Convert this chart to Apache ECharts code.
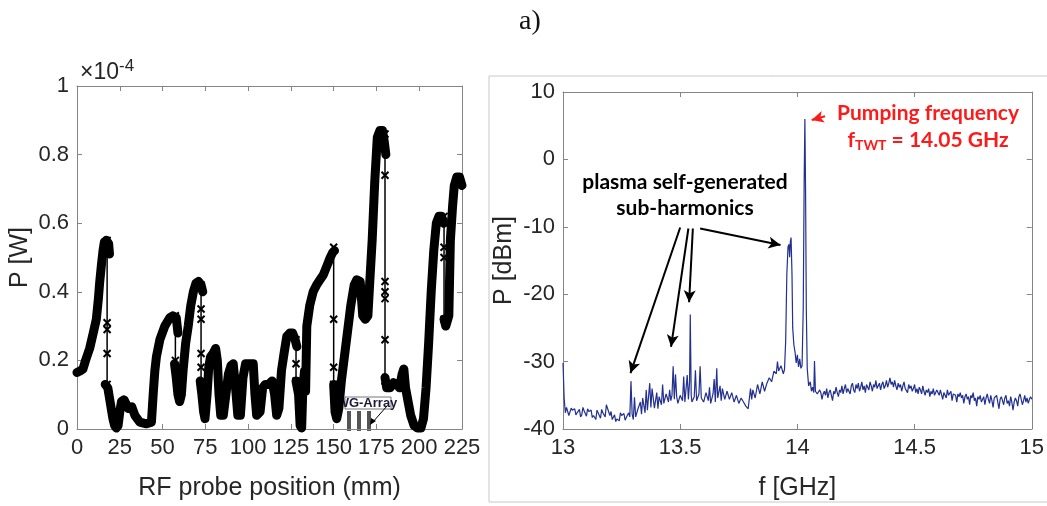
<!DOCTYPE html>
<html>
<head>
<meta charset="utf-8">
<script src="https://cdn.jsdelivr.net/npm/echarts@6/dist/echarts.min.js"></script>
<style>
  html, body { margin: 0; padding: 0; background: #fff; }
  #main { width: 1047px; height: 506px; }
</style>
</head>
<body>
<div id="main"></div>
<script>
// left panel: RF probe scan, P in units of 1e-4 W
const probeTicks = [0, 25, 50, 75, 100, 125, 150, 175, 200, 225];
const powerTicks = [0, 0.2, 0.4, 0.6, 0.8, 1];

// dense (thick) parts of the scan, [position mm, P x1e-4 W]
const segA = [[0,0.165],[2,0.17],[3.5,0.175],[5,0.2],[7.4,0.235],[9.5,0.28],[11.3,0.32],[12.5,0.38],[13.3,0.43],[14.3,0.48],[15.2,0.52],[16,0.545],[17.2,0.55],[18.5,0.54],[19,0.51]];
const segB = [[16.5,0.13],[18,0.12],[19,0.09],[20,0.06],[21,0.03],[22,0.01],[23,0.003],[24,0.01],[25,0.05],[26,0.08],[27.5,0.085],[29,0.07],[30,0.06],[31,0.065],[32,0.065],[33.8,0.04],[36.7,0.02],[40.6,0.015],[43.5,0.02],[44.5,0.1],[45.5,0.17],[46.4,0.21],[48.4,0.26],[51.3,0.3],[54.3,0.325],[56,0.33],[58,0.325],[59,0.28]];
const segC = [[57,0.19],[58,0.15],[59,0.1],[60,0.08],[61,0.1],[62,0.17],[63.5,0.25],[65,0.3],[66.5,0.36],[68,0.4],[69.5,0.425],[71,0.43],[72.5,0.42],[73.5,0.4]];
const segD = [[72,0.14],[73,0.1],[74,0.05],[74.8,0.03],[76,0.1],[77,0.18],[78,0.21],[79.5,0.22],[81,0.235],[82,0.2],[83,0.1],[84,0.04],[85.5,0.04],[87,0.1],[88.5,0.16],[90,0.185],[91.3,0.19],[92.5,0.13],[94,0.04],[95.5,0.04],[97,0.15],[98.5,0.19],[101,0.19],[103,0.19],[104,0.1],[105,0.04],[107,0.05],[108.5,0.12],[110,0.13],[112,0.13],[114,0.14],[115.5,0.1],[116.7,0.04],[118,0.06],[119.5,0.17],[121,0.22],[122.6,0.27],[124.5,0.28],[126,0.28],[127.5,0.26],[128.5,0.24]];
const segE = [[128,0.14],[129.5,0.1],[130.4,0.01],[131.3,0.003],[132,0.12],[133,0.17],[133.6,0.11],[134.3,0.3],[136,0.36],[138,0.4],[140,0.42],[142,0.435],[144,0.45],[146,0.475],[148,0.5],[149.5,0.515],[150.5,0.52]];
const segF = [[150,0.13],[150.8,0.05],[151.8,0.03],[153,0.06],[154.5,0.14],[156,0.2],[158,0.28],[160,0.36],[162,0.42],[163.5,0.435],[165.5,0.43],[167,0.33],[168.5,0.32],[170,0.33],[171,0.42],[172.5,0.55],[174,0.72],[175.5,0.85],[177,0.87],[178.5,0.87],[179.5,0.84],[180.5,0.8]];
const segG = [[180,0.15],[181,0.12],[183,0.12],[185,0.135],[187,0.13],[188.5,0.12],[190,0.16],[191,0.175],[192,0.12],[193.5,0.08],[195,0.04],[197,0.01],[199,0.003],[201,0.003],[202.5,0.03],[204,0.12],[205.5,0.25],[207,0.4],[208.5,0.52],[210,0.6],[211.5,0.62],[213,0.62],[214.3,0.6]];
const segH = [[214.5,0.32],[215.5,0.3],[216.5,0.3],[217.3,0.33],[218.2,0.55],[219.5,0.65],[220.5,0.71],[222,0.735],[223.5,0.735],[225,0.71]];
const denseSegs = [segA, segB, segC, segD, segE, segF, segG, segH];

// sparse jumps between the dense parts: position + sampled values
const jumpPos = [17.6, 57.5, 72.5, 128, 150, 180, 214.5];
const jumpVals = [
  [0.55, 0.31, 0.29, 0.22, 0.13],
  [0.33, 0.2, 0.18],
  [0.42, 0.35, 0.32, 0.22, 0.18, 0.13],
  [0.26, 0.19, 0.14],
  [0.53, 0.32, 0.18, 0.13],
  [0.86, 0.74, 0.43, 0.4, 0.38, 0.26, 0.14],
  [0.62, 0.53, 0.5, 0.32]
];

// right panel: spectrum, [f GHz, P dBm]
const freqTicks = [13, 13.5, 14, 14.5, 15];
const dbmTicks = [-40, -30, -20, -10, 0, 10];
const spectrum = [
  [13.00,-30.2],[13.005,-35.5],[13.01,-37.6],[13.015,-36.8],[13.02,-37.0],[13.025,-38.0],[13.03,-37.8],[13.035,-36.9],[13.04,-37.2],[13.05,-37.0],[13.055,-37.9],[13.06,-37.6],
  [13.07,-37.1],[13.075,-38.2],[13.08,-37.9],[13.085,-36.8],[13.09,-37.3],[13.10,-38.1],[13.105,-37.0],[13.11,-37.4],[13.12,-37.2],[13.125,-38.3],[13.13,-38.0],[13.14,-38.6],
  [13.145,-37.2],[13.15,-37.4],[13.16,-38.4],[13.165,-37.1],[13.17,-37.6],[13.18,-38.2],[13.185,-36.4],[13.19,-36.6],[13.20,-38.0],[13.205,-37.4],[13.21,-38.6],[13.22,-37.9],
  [13.225,-38.9],[13.23,-38.5],[13.24,-38.8],[13.245,-37.6],[13.25,-38.0],[13.26,-37.7],[13.265,-38.7],[13.27,-38.3],[13.28,-37.6],[13.285,-38.2],[13.29,-32.9],
  [13.295,-37.8],[13.30,-38.6],[13.305,-35.3],[13.31,-38.2],[13.32,-37.0],[13.33,-36.0],[13.335,-37.8],[13.34,-35.4],
  [13.35,-37.6],[13.355,-34.2],[13.36,-37.2],[13.37,-33.2],[13.375,-36.8],[13.38,-34.0],[13.39,-36.9],[13.40,-34.6],
  [13.405,-37.0],[13.41,-35.2],[13.42,-36.4],[13.425,-33.4],[13.43,-36.2],[13.44,-34.8],[13.45,-36.0],[13.455,-34.2],
  [13.46,-35.8],[13.465,-35.0],[13.47,-30.7],[13.475,-35.6],[13.48,-31.9],[13.485,-35.2],[13.49,-36.2],[13.50,-35.0],
  [13.51,-35.8],[13.515,-32.2],[13.52,-36.0],[13.53,-32.0],[13.535,-35.6],[13.54,-33.0],[13.543,-23.0],[13.547,-35.0],
  [13.55,-36.0],[13.56,-35.2],[13.565,-31.3],[13.57,-35.8],[13.58,-34.8],[13.585,-30.7],[13.59,-35.4],[13.60,-36.0],
  [13.61,-34.6],[13.62,-35.8],[13.625,-33.8],[13.63,-36.2],[13.64,-34.8],[13.645,-32.6],[13.65,-36.0],[13.656,-31.0],
  [13.66,-35.4],[13.67,-33.6],[13.675,-35.8],[13.68,-34.0],[13.69,-35.6],[13.70,-34.4],[13.71,-35.6],[13.72,-34.6],
  [13.73,-36.0],[13.74,-35.0],[13.75,-36.2],[13.76,-35.4],[13.77,-36.0],[13.78,-36.6],[13.79,-37.0],[13.80,-34.0],
  [13.805,-35.6],[13.81,-34.2],[13.82,-35.4],[13.83,-33.4],[13.84,-34.8],[13.85,-33.0],[13.86,-34.4],[13.87,-33.2],
  [13.88,-32.4],[13.89,-33.0],[13.90,-31.4],[13.91,-31.8],[13.915,-30.0],[13.92,-31.4],[13.93,-30.6],[13.94,-31.8],
  [13.945,-31.2],[13.95,-27.0],[13.955,-17.0],[13.96,-13.0],[13.964,-12.6],[13.967,-14.5],[13.97,-12.2],[13.973,-11.6],
  [13.977,-17.0],[13.98,-25.0],[13.985,-27.5],[13.99,-28.6],[13.995,-30.2],[14.00,-29.0],[14.005,-30.8],[14.01,-29.6],
  [14.015,-31.0],[14.02,-30.6],[14.025,-22.0],[14.029,-3.0],[14.032,6.0],[14.035,-5.0],[14.038,-22.0],[14.042,-31.0],
  [14.048,-33.6],[14.055,-33.0],[14.06,-34.4],[14.065,-33.8],[14.07,-34.6],[14.073,-29.9],[14.077,-34.4],[14.085,-34.8],
  [14.09,-35.0],[14.095,-34.2],[14.10,-34.6],[14.105,-35.6],[14.11,-34.8],[14.115,-34.4],[14.12,-35.0],[14.125,-34.0],
  [14.13,-35.4],[14.135,-34.6],[14.14,-34.2],[14.145,-35.0],[14.15,-35.8],[14.155,-34.4],[14.16,-34.8],[14.165,-33.8],
  [14.17,-34.6],[14.175,-35.2],[14.18,-34.2],[14.185,-34.6],[14.19,-33.6],[14.195,-34.8],[14.20,-34.0],[14.205,-33.4],
  [14.21,-34.6],[14.215,-34.0],[14.22,-33.8],[14.225,-34.8],[14.23,-33.6],[14.235,-33.2],[14.24,-34.2],[14.245,-34.6],
  [14.25,-33.4],[14.255,-34.0],[14.26,-33.2],[14.265,-34.4],[14.27,-33.8],[14.275,-33.0],[14.28,-34.2],[14.285,-33.6],
  [14.29,-34.6],[14.295,-33.4],[14.30,-33.8],[14.305,-34.2],[14.31,-33.0],[14.315,-33.6],[14.32,-34.4],[14.325,-33.4],
  [14.33,-33.8],[14.335,-32.8],[14.34,-34.0],[14.345,-33.6],[14.35,-33.2],[14.355,-34.2],[14.36,-33.4],[14.365,-33.0],
  [14.37,-34.0],[14.375,-33.6],[14.38,-32.8],[14.385,-33.8],[14.39,-33.2],[14.395,-32.4],[14.40,-33.4],[14.405,-33.0],
  [14.41,-33.8],[14.415,-32.8],[14.42,-33.6],[14.425,-34.2],[14.43,-33.2],[14.435,-33.8],[14.44,-33.4],[14.445,-34.4],
  [14.45,-33.6],[14.455,-33.0],[14.46,-34.0],[14.465,-33.8],[14.47,-34.6],[14.475,-33.4],[14.48,-34.0],[14.485,-33.6],
  [14.49,-34.4],[14.495,-34.0],[14.50,-33.4],[14.505,-34.6],[14.51,-34.0],[14.515,-34.8],[14.52,-33.8],[14.525,-34.2],
  [14.53,-34.8],[14.535,-33.6],[14.54,-34.4],[14.545,-35.0],[14.55,-34.2],[14.555,-34.6],[14.56,-34.0],[14.565,-35.2],
  [14.57,-34.4],[14.575,-34.8],[14.58,-34.0],[14.585,-35.0],[14.59,-34.6],[14.595,-34.2],[14.60,-34.4],[14.605,-35.0],
  [14.61,-34.2],[14.615,-34.9],[14.62,-35.6],[14.625,-34.6],[14.63,-34.8],[14.635,-35.4],[14.64,-34.2],[14.645,-35.0],
  [14.65,-35.2],[14.655,-34.4],[14.66,-35.8],[14.665,-34.8],[14.67,-34.6],[14.675,-35.0],[14.68,-36.0],[14.685,-34.8],
  [14.69,-35.2],[14.695,-34.6],[14.70,-35.4],[14.705,-35.0],[14.71,-36.2],[14.715,-35.2],[14.72,-34.8],[14.725,-35.6],
  [14.73,-35.2],[14.735,-36.4],[14.74,-35.0],[14.745,-35.4],[14.75,-34.6],[14.755,-35.8],[14.76,-35.4],[14.765,-36.6],
  [14.77,-35.2],[14.775,-35.6],[14.78,-35.0],[14.785,-36.0],[14.79,-35.8],[14.795,-35.2],[14.80,-36.4],[14.805,-35.4],
  [14.81,-34.8],[14.815,-35.6],[14.82,-36.2],[14.825,-35.0],[14.83,-35.8],[14.835,-36.8],[14.84,-35.4],[14.845,-35.6],
  [14.85,-35.0],[14.855,-36.0],[14.86,-37.0],[14.865,-35.6],[14.87,-35.2],[14.875,-35.8],[14.88,-36.4],[14.885,-35.4],
  [14.89,-35.0],[14.895,-36.2],[14.90,-35.8],[14.905,-36.6],[14.91,-35.2],[14.915,-36.0],[14.92,-37.2],[14.925,-36.0],
  [14.93,-35.4],[14.935,-35.8],[14.94,-36.6],[14.945,-35.2],[14.95,-34.8],[14.955,-35.6],[14.96,-36.4],[14.965,-35.8],
  [14.97,-35.0],[14.975,-36.0],[14.98,-35.4],[14.985,-36.2],[14.99,-35.6],[14.995,-35.2],[15.00,-35.6]
];

// annotation arrows in data coords: [from, to]
const subArrows = [
  [[13.500,-10.1],[13.288,-31.7]],
  [[13.535,-10.25],[13.461,-27.8]],
  [[13.554,-10.25],[13.538,-21.2]],
  [[13.585,-10.25],[13.928,-12.7]]
];
const pumpArrow = [[14.118,6.4],[14.061,5.85]];

const TXT = '#262626';
const BOX = '#858585';
const FONT = 'Liberation Sans';
const RED = '#ff1a1a';

function boxAxis(gridIndex, pos, min, max, interval, showLabel, fmt) {
  return {
    gridIndex: gridIndex, type: 'value', position: pos,
    min: min, max: max, interval: interval,
    axisLine: { show: true, onZero: false, lineStyle: { color: BOX, width: 1 } },
    axisTick: { show: true, inside: true, length: 5, lineStyle: { color: BOX } },
    splitLine: { show: false },
    axisLabel: { show: showLabel, color: TXT, fontFamily: FONT, fontSize: 22, margin: 8, formatter: fmt }
  };
}

var series = [];
denseSegs.forEach(function (seg) {
  series.push({
    type: 'line', xAxisIndex: 0, yAxisIndex: 0, data: seg,
    showSymbol: false, smooth: false,
    lineStyle: { color: '#000', width: 9, cap: 'round', join: 'round' }
  });
});
jumpPos.forEach(function (x, i) {
  series.push({
    type: 'line', xAxisIndex: 0, yAxisIndex: 0,
    data: jumpVals[i].map(function (v) { return [x, v]; }),
    symbol: 'path://M0 0L10 10M10 0L0 10', symbolSize: 7,
    itemStyle: { color: 'none', borderColor: '#000', borderWidth: 2 },
    lineStyle: { color: '#000', width: 1.5 }
  });
});
series.push({
  type: 'line', xAxisIndex: 2, yAxisIndex: 2, data: spectrum,
  showSymbol: false,
  lineStyle: { color: '#22308f', width: 1.2 },
  markLine: {
    silent: true, symbol: ['none', 'arrow'], symbolSize: [9, 12],
    label: { show: false },
    lineStyle: { color: '#000', width: 2, type: 'solid' },
    data: subArrows.map(function (a) {
      return [{ coord: a[0] }, { coord: a[1] }];
    }).concat([[
      { coord: pumpArrow[0], lineStyle: { color: RED, width: 2 } },
      { coord: pumpArrow[1] }
    ]])
  }
});

var chart = echarts.init(document.getElementById('main'));
chart.setOption({
  animation: false,
  backgroundColor: '#fff',
  grid: [
    { left: 77, top: 86, width: 385, height: 345 },
    { left: 563, top: 92, width: 469, height: 339 }
  ],
  xAxis: [
    Object.assign(boxAxis(0, 'bottom', probeTicks[0], probeTicks[probeTicks.length - 1], 25, true), {
      name: 'RF probe position (mm)', nameLocation: 'middle', nameGap: 47,
      nameTextStyle: { color: TXT, fontFamily: FONT, fontSize: 25 }
    }),
    boxAxis(0, 'top', probeTicks[0], probeTicks[probeTicks.length - 1], 25, false),
    Object.assign(boxAxis(1, 'bottom', freqTicks[0], freqTicks[freqTicks.length - 1], 0.5, true), {
      name: 'f [GHz]', nameLocation: 'middle', nameGap: 47,
      nameTextStyle: { color: TXT, fontFamily: FONT, fontSize: 25 }
    }),
    boxAxis(1, 'top', freqTicks[0], freqTicks[freqTicks.length - 1], 0.5, false)
  ],
  yAxis: [
    Object.assign(boxAxis(0, 'left', powerTicks[0], powerTicks[powerTicks.length - 1], 0.2, true,
      function (v) { return String(+v.toFixed(1)); }), {
      name: 'P [W]', nameLocation: 'middle', nameGap: 44,
      nameTextStyle: { color: TXT, fontFamily: FONT, fontSize: 25 }
    }),
    boxAxis(0, 'right', powerTicks[0], powerTicks[powerTicks.length - 1], 0.2, false),
    Object.assign(boxAxis(1, 'left', dbmTicks[0], dbmTicks[dbmTicks.length - 1], 10, true), {
      name: 'P [dBm]', nameLocation: 'middle', nameGap: 46,
      nameTextStyle: { color: TXT, fontFamily: FONT, fontSize: 25 }
    }),
    boxAxis(1, 'right', dbmTicks[0], dbmTicks[dbmTicks.length - 1], 10, false)
  ],
  series: series,
  graphic: [
    { type: 'text', x: 530, y: 22, style: { text: 'a)', font: '28px "Liberation Serif"', fill: '#111', align: 'center', verticalAlign: 'middle' } },
    // frame around right panel
    { type: 'rect', shape: { x: 489, y: 76, width: 600, height: 426 }, style: { fill: 'none', stroke: '#c8c8c8', lineWidth: 1 } },
    { type: 'text', x: 80, y: 58, style: {
        text: '{a|×10}{s|-4}', fill: TXT,
        rich: { a: { fontFamily: FONT, fontSize: 23, fill: TXT }, s: { fontFamily: FONT, fontSize: 17, fill: TXT, verticalAlign: 'top', padding: [0, 0, 12, 0] } }
    } },
    // WG-Array inset
    { type: 'rect', shape: { x: 347, y: 411, width: 4, height: 20 }, style: { fill: '#555' } },
    { type: 'rect', shape: { x: 357, y: 411, width: 4, height: 20 }, style: { fill: '#555' } },
    { type: 'rect', shape: { x: 367, y: 411, width: 4, height: 20 }, style: { fill: '#555' } },
    { type: 'rect', shape: { x: 345, y: 397, width: 46, height: 12 }, style: { fill: '#fff', stroke: '#777', lineWidth: 1 } },
    { type: 'text', x: 367, y: 403, style: { text: 'WG-Array', font: 'bold 13px "Liberation Sans"', fill: '#1c1c3a', align: 'center', verticalAlign: 'middle' } },
    { type: 'line', shape: { x1: 387, y1: 406, x2: 372, y2: 423 }, style: { stroke: '#000', lineWidth: 1 } },
    { type: 'polygon', shape: { points: [[370, 425], [371, 418], [376, 421]] }, style: { fill: '#000' } },
    // annotations right
    { type: 'text', x: 685, y: 182, style: { text: 'plasma self-generated', font: 'bold 21px Lato', fill: '#000', align: 'center', verticalAlign: 'middle' } },
    { type: 'text', x: 685, y: 208, style: { text: 'sub-harmonics', font: 'bold 21px Lato', fill: '#000', align: 'center', verticalAlign: 'middle' } },
    { type: 'text', x: 928, y: 113, style: { text: 'Pumping frequency', font: 'bold 21px Lato', fill: RED, align: 'center', verticalAlign: 'middle' } },
    { type: 'text', x: 928, y: 140, style: {
        text: '{a|f}{s|TWT}{a| = 14.05 GHz}', align: 'center', verticalAlign: 'middle',
        rich: { a: { font: 'bold 21px Lato', fill: RED }, s: { font: 'bold 14px Lato', fill: RED, padding: [10, 0, 0, 0] } }
    } }
  ]
});
</script>
</body>
</html>
